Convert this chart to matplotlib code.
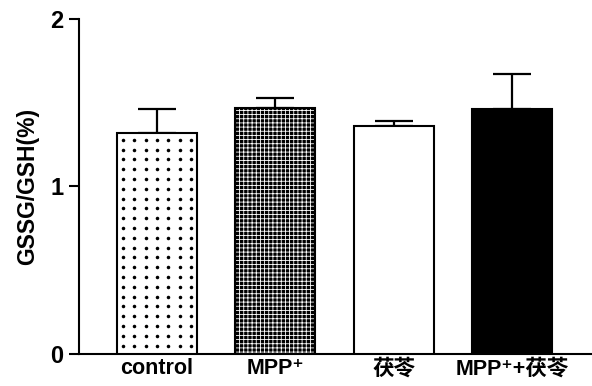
import matplotlib
matplotlib.use('Agg')
import matplotlib.pyplot as plt
import numpy as np

# GSSG/GSH ratio per treatment group (mean and upper SEM)
groups = ['control', 'MPP⁺', '茯苓', 'MPP⁺+茯苓']
means = [1.32, 1.47, 1.36, 1.46]
errors = [0.14, 0.06, 0.03, 0.21]
faces = ['white', 'black', 'white', 'black']

plt.rcParams['font.family'] = ['Liberation Sans', 'Noto Sans CJK SC', 'DejaVu Sans']
plt.rcParams['font.weight'] = 'bold'
plt.rcParams['hatch.linewidth'] = 0.6

fig = plt.figure(figsize=(5.92, 3.86), dpi=100)
ax = fig.add_axes([0.1334, 0.0829, 0.8666, 0.8679])
ax.set_xlim(-0.659, 3.677)
ax.set_ylim(0, 2)

x = np.arange(len(groups))
width = 0.676

# white grid texture on the MPP+ bar
ax.bar(x[1], means[1], width=width, color='black', edgecolor='white',
       hatch='++++', linewidth=0, zorder=2)
bars = ax.bar(x, means, width=width, color=faces, edgecolor='black',
              linewidth=1.5, zorder=3)
bars[1].set_facecolor('none')

# dotted fill on the control bar, about 10 px spacing
b = bars[0]
py = 1 / (ax.transData.transform((0, 1))[1] - ax.transData.transform((0, 0))[1])
cols = b.get_x() + b.get_width() * (np.arange(7) + 0.5) / 7
rows = np.arange(b.get_height() - 7 * py, 0, -9.8 * py)
gx, gy = np.meshgrid(cols, rows)
ax.scatter(gx.ravel(), gy.ravel(), s=6.5, color='black', linewidths=0, zorder=4)

ax.errorbar(x, means, yerr=[[0] * len(errors), errors], fmt='none', ecolor='black',
            elinewidth=1.6, capsize=14, capthick=1.6, zorder=1)

ax.set_yticks([0, 1, 2])
ax.set_xticks(x)
ax.set_xticklabels(groups, fontsize=15.5, fontweight='bold')
ax.tick_params(axis='x', length=0, pad=3)
ax.tick_params(axis='y', length=7, width=1.5, pad=4, labelsize=17)
for lab in ax.get_yticklabels():
    lab.set_fontweight('bold')

ax.spines['top'].set_visible(False)
ax.spines['right'].set_visible(False)
ax.spines['left'].set_linewidth(1.5)
ax.spines['bottom'].set_linewidth(1.5)

ax.set_ylabel('GSSG/GSH(%)', fontsize=16.5, fontweight='bold', labelpad=8)

fig.savefig('out.png', dpi=100)
